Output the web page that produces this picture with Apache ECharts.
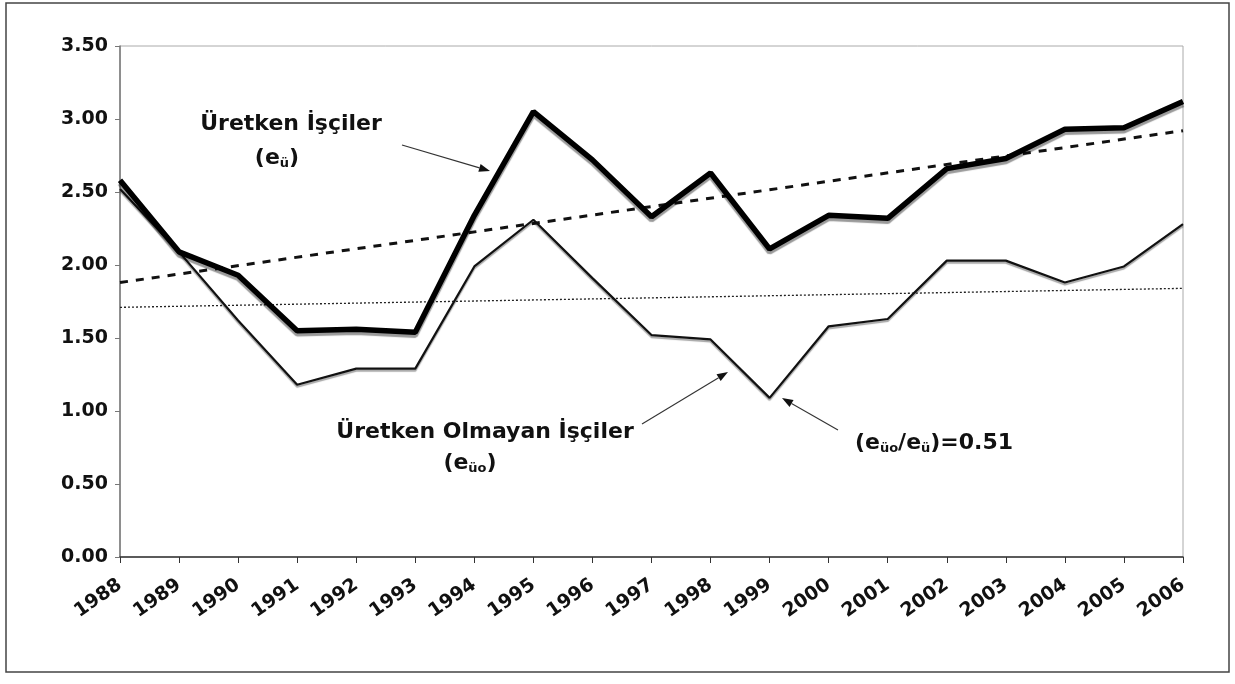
<!DOCTYPE html>
<html>
<head>
<meta charset="utf-8">
<script src="https://cdn.jsdelivr.net/npm/echarts@6/dist/echarts.min.js"></script>
<style>
  html, body { margin: 0; padding: 0; background: #fff; }
  #chart { width: 1235px; height: 684px; }
</style>
</head>
<body>
<div id="chart"></div>
<script>
// yıllar
var years = ['1988','1989','1990','1991','1992','1993','1994','1995','1996','1997',
             '1998','1999','2000','2001','2002','2003','2004','2005','2006'];
// Üretken İşçiler (eü)
var uretken = [2.58, 2.09, 1.93, 1.55, 1.56, 1.54, 2.34, 3.05, 2.72, 2.33,
               2.63, 2.11, 2.34, 2.32, 2.66, 2.73, 2.93, 2.94, 3.12];
// Üretken Olmayan İşçiler (eüo)
var olmayan = [2.52, 2.09, 1.62, 1.18, 1.29, 1.29, 1.99, 2.31, 1.91, 1.52,
               1.49, 1.09, 1.58, 1.63, 2.03, 2.03, 1.88, 1.99, 2.28];
// trend çizgileri (sadece uç noktalar)
var trendUretken = [1.88, null, null, null, null, null, null, null, null, null,
                    null, null, null, null, null, null, null, null, 2.92];
var trendOlmayan = [1.71, null, null, null, null, null, null, null, null, null,
                    null, null, null, null, null, null, null, null, 1.84];

var FONT = 'DejaVu Sans';

// ok çizimi (çizgi + üçgen uç)
function arrow(x1, y1, x2, y2) {
    var a = Math.atan2(y2 - y1, x2 - x1);
    var L = 11, W = 4;
    var bx = x2 - L * Math.cos(a), by = y2 - L * Math.sin(a);
    return [
        { type: 'line', z: 10, shape: { x1: x1, y1: y1, x2: bx, y2: by },
          style: { stroke: '#333', lineWidth: 1.1 } },
        { type: 'polygon', z: 10, shape: { points: [
            [x2, y2],
            [bx + W * Math.sin(a), by - W * Math.cos(a)],
            [bx - W * Math.sin(a), by + W * Math.cos(a)]
          ] }, style: { fill: '#111' } }
    ];
}

function label(x, y, txt) {
    return { type: 'text', z: 10, x: x, y: y,
        style: { text: txt, font: 'bold 22px "' + FONT + '"', fill: '#111',
                 align: 'center', verticalAlign: 'middle',
                 rich: { s: { fontSize: 13, fontWeight: 'bold', fontFamily: FONT,
                              fill: '#111', padding: [12, 0, 0, 0] } } } };
}

var myChart = echarts.init(document.getElementById('chart'));

var graphics = [
    { type: 'rect', z: -1, shape: { x: 6, y: 3, width: 1223, height: 669 },
      style: { fill: 'none', stroke: '#444', lineWidth: 1.5 } },
    label(291, 124, 'Üretken İşçiler'),
    label(277, 158, '(e{s|ü})'),
    label(485, 432, 'Üretken Olmayan İşçiler'),
    label(470, 463, '(e{s|üo})'),
    label(934, 443, '(e{s|üo}/e{s|ü})=0.51')
].concat(arrow(402, 145, 490, 171))
 .concat(arrow(642, 424, 728, 372))
 .concat(arrow(838, 430, 782, 398));

var option = {
    animation: false,
    backgroundColor: '#fff',
    grid: { left: 120, right: 52, top: 46, bottom: 127, show: true,
            borderColor: '#aaa', borderWidth: 1 },
    xAxis: {
        type: 'category', data: years, boundaryGap: false,
        axisLine: { lineStyle: { color: '#333', width: 1.5 } },
        axisTick: { show: true, alignWithLabel: true, length: 6, lineStyle: { color: '#333' } },
        axisLabel: { rotate: 35, margin: 26, fontFamily: FONT, fontWeight: 'bold',
                     fontSize: 19, color: '#111', interval: 0 },
        splitLine: { show: false }
    },
    yAxis: {
        type: 'value', min: 0, max: 3.5, interval: 0.5,
        axisLine: { show: true, lineStyle: { color: '#777', width: 1.5 } },
        axisTick: { show: true, length: 5, lineStyle: { color: '#777' } },
        axisLabel: { margin: 12, fontFamily: FONT, fontWeight: 'bold', fontSize: 19, color: '#111',
                     formatter: function (v) { return v.toFixed(2); } },
        splitLine: { show: false }
    },
    series: [
        { name: 'trend eü', type: 'line', data: trendUretken, connectNulls: true,
          symbol: 'none', lineStyle: { color: '#111', width: 3, type: [8, 8] } },
        { name: 'trend eüo', type: 'line', data: trendOlmayan, connectNulls: true,
          symbol: 'none', lineStyle: { color: '#222', width: 1.3, type: [2, 2] } },
        { name: 'Üretken Olmayan İşçiler', type: 'line', data: olmayan, symbol: 'none',
          lineStyle: { color: '#111', width: 2.2, shadowColor: 'rgba(0,0,0,0.35)',
                       shadowBlur: 1, shadowOffsetY: 2 } },
        { name: 'Üretken İşçiler', type: 'line', data: uretken, symbol: 'none',
          lineStyle: { color: '#000', width: 5.5, shadowColor: 'rgba(0,0,0,0.4)',
                       shadowBlur: 1, shadowOffsetY: 3 } }
    ],
    graphic: graphics
};

myChart.setOption(option);
</script>
</body>
</html>
